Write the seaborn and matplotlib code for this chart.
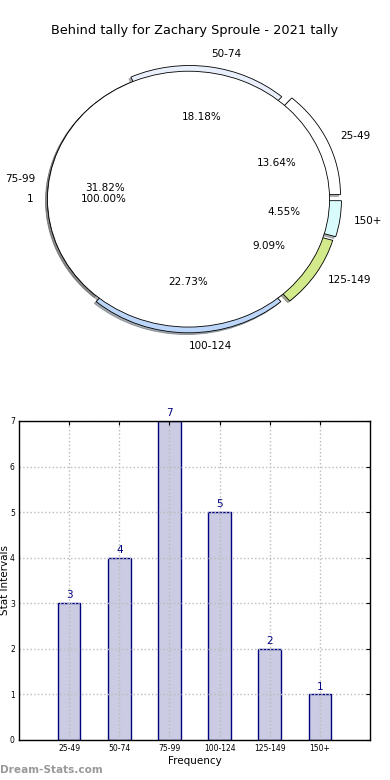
import matplotlib
matplotlib.use("Agg")
import matplotlib.pyplot as plt
import seaborn as sns

# ── Data ──────────────────────────────────────────────────────────────────────
categories = ["25-49", "50-74", "75-99", "100-124", "125-149", "150+"]
counts = [3, 4, 7, 5, 2, 1]
ring_colors = ["#ffffff", "#e9f0fc", "#ffffff", "#bcd6fa", "#d2e98c", "#d9fbfc"]
ring_explode = [0.085, 0.045, 0.0, 0.045, 0.075, 0.085]
inner_labels = ["1"]
inner_values = [sum(counts)]

title = "Behind tally for Zachary Sproule - 2021 tally"

sns.set_style("white")
plt.rcParams["font.family"] = ["DejaVu Sans"]
plt.rcParams.update({"text.color": "black", "axes.labelcolor": "black",
                     "xtick.color": "black", "ytick.color": "black"})

fig = plt.figure(figsize=(3.9, 7.8), dpi=100)

# ── Pie (exploded ring under a full white disc) ───────────────────────────────
ax_pie = fig.add_axes([0.0314, 0.5397, 0.904, 0.410])
wp = dict(edgecolor="black", linewidth=0.6)
shadow = dict(ox=-0.01, oy=-0.01, shade=0.6)
_, ring_texts, ring_pcts = ax_pie.pie(
    counts, labels=categories, colors=ring_colors, explode=ring_explode,
    autopct="%.2f%%", pctdistance=0.6, labeldistance=1.1, shadow=shadow,
    startangle=0, counterclock=True, wedgeprops=wp,
)
_, in_texts, in_pcts = ax_pie.pie(
    inner_values, labels=inner_labels, colors=["white"], autopct="%.2f%%",
    pctdistance=0.6, labeldistance=1.1, shadow=shadow, wedgeprops=wp,
)
for t in ring_texts + ring_pcts + in_texts + in_pcts:
    t.set_fontsize(7.5)
ax_pie.set_aspect("auto")
ax_pie.set_xlim(-1.25, 1.25)
ax_pie.set_ylim(-1.25, 1.25)
fig.text(0.5, 0.9615, title, fontsize=9.3, ha="center", va="center")

# ── Bar chart ─────────────────────────────────────────────────────────────────
ax = fig.add_axes([0.0487, 0.0513, 0.9, 0.409])
sns.barplot(x=categories, y=counts, color="#cbcbe3", saturation=1,
            width=0.45, edgecolor="#000080", linewidth=1, ax=ax, zorder=2)
ax.set_xlim(-1, 6)
ax.set_ylim(0, 7)
ax.set_yticks(range(0, 8))
ax.grid(True, linestyle=":", color="#bbbbbb", linewidth=1, zorder=3)
ax.set_axisbelow(False)
for i, v in enumerate(counts):
    ax.annotate(str(v), (i, v), xytext=(0, 2), textcoords="offset points",
                ha="center", va="bottom", color="#000080", fontsize=7.5,
                annotation_clip=False)
ax.tick_params(axis="both", labelsize=5.5, direction="in", length=3,
               top=True, right=True, pad=3)
for s in ax.spines.values():
    s.set_color("black")
    s.set_linewidth(1)
    s.set_zorder(4)
ax.set_xlabel("Frequency", fontsize=7.5, labelpad=2)
ax.set_ylabel("Stat Intervals", fontsize=7.5)
ax.yaxis.set_label_coords(-0.026, 0.5)

fig.text(0.0, 0.013, "Dream-Stats.com", color="#999999", fontsize=7.6,
         fontweight="bold", ha="left", va="center")

fig.savefig("out.png", dpi=100)
plt.close(fig)
